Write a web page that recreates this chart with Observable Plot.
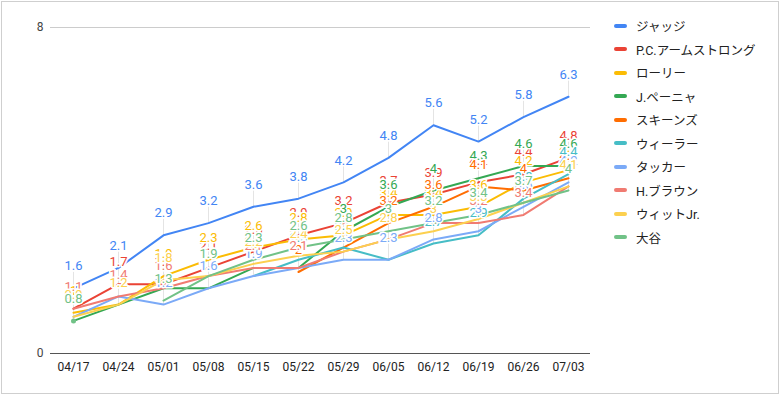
<!DOCTYPE html>
<html><head><meta charset="utf-8">
<script src="https://cdn.jsdelivr.net/npm/d3@7"></script>
<script src="https://cdn.jsdelivr.net/npm/@observablehq/plot@0.6"></script>
<style>
body{margin:0;background:#fff;font-family:Roboto,"Noto Sans CJK JP",sans-serif;}
#wrap{position:relative;width:780px;height:395px;overflow:hidden;}
#frame{position:absolute;left:1px;top:1px;width:776px;height:391px;border:1px solid #cfcfcf;pointer-events:none;}
#legend{position:absolute;left:614px;top:14px;}
.item{height:23.5px;display:flex;align-items:center;font-size:12.5px;color:#222;white-space:nowrap;}
.sw{width:13px;height:4px;border-radius:2px;margin-right:9px;}
</style></head><body>
<div id="wrap"><div id="chart"></div><div id="legend"></div><div id="frame"></div></div>
<script>
const dates = ["04/17","04/24","05/01","05/08","05/15","05/22","05/29","06/05","06/12","06/19","06/26","07/03"];
const names = ["ジャッジ","P.C.アームストロング","ローリー","J.ペーニャ","スキーンズ","ウィーラー","タッカー","H.ブラウン","ウィットJr.","大谷"];
const colors = ["#4285F4","#EA4335","#FBBC04","#34A853","#FF6D01","#46BDC6","#7BAAF7","#F07B72","#FCD04F","#71C287"];
const judge     = [1.6,2.1,2.9,3.2,3.6,3.8,4.2,4.8,5.6,5.2,5.8,6.3];
const armstrong = [1.1,1.7,1.7,2.1,2.5,2.9,3.2,3.7,3.9,4.2,4.4,4.8];
const raleigh   = [1,1.2,1.9,2.3,2.6,2.8,2.9,3.4,3.4,3.6,4.2,4.5];
const pena      = [0.8,1.2,1.6,1.6,2.1,2.1,3,3.6,4,4.3,4.6,4.6];
const skenes    = [null,null,null,null,null,2,2.6,3.2,3.6,4.1,4,4.3];
const wheeler   = [null,null,null,null,1.9,2.3,2.6,2.3,2.7,2.9,3.8,4.4];
const tucker    = [0.9,1.4,1.2,1.6,1.9,2.1,2.3,2.3,2.8,3,3.6,4.2];
const brown     = [1.1,1.4,1.6,1.9,2.1,2.1,2.5,2.8,3.2,3.2,3.4,4.1];
const witt      = [0.9,1.2,1.8,1.9,2.2,2.4,2.5,2.8,3,3.3,3.7,4.1];
const ohtani    = [0.8,null,1.3,1.9,2.3,2.6,2.8,3,3.2,3.4,3.7,4];
const yTicks = [0, 8];

const values = [judge, armstrong, raleigh, pena, skenes, wheeler, tucker, brown, witt, ohtani];
const rows = [];
names.forEach((n, i) => dates.forEach((d, j) => rows.push({series: n, date: d, value: values[i][j], i, j})));
const defined = rows.filter(r => r.value != null);
const isolated = defined.filter(r => {
  const v = values[r.i];
  return (r.j === 0 || v[r.j - 1] == null) && (r.j === dates.length - 1 || v[r.j + 1] == null);
});

const stem = {draw(context, l) { context.moveTo(0, 0); context.lineTo(0, -l); }};

const chart = Plot.plot({
  width: 780, height: 395,
  marginLeft: 50, marginRight: 190, marginTop: 27, marginBottom: 42,
  style: {fontFamily: "Roboto, 'Noto Sans CJK JP', sans-serif", background: "transparent"},
  x: {type: "point", domain: dates, padding: 0.5},
  y: {domain: [0, 8]},
  color: {domain: names, range: colors},
  marks: [
    Plot.ruleY([8], {stroke: "#cccccc", strokeWidth: 1}),
    Plot.vector(defined, {x: "date", y: "value", length: 16, rotate: 0, anchor: "start", stroke: "#e4e4e4", strokeWidth: 1, shape: stem}),
    Plot.line(rows, {x: "date", y: "value", z: "series", stroke: "series", strokeWidth: 2, curve: "linear"}),
    Plot.dot(isolated, {x: "date", y: "value", r: 2.5, fill: "series"}),
    Plot.ruleY([0], {stroke: "#555", strokeWidth: 1.2}),
    Plot.text(defined, {x: "date", y: "value", text: d => String(d.value), fill: "series", dy: -22, fontSize: 13, stroke: "white", strokeWidth: 3, paintOrder: "stroke"}),
    Plot.axisX({tickSize: 0, tickPadding: 9, fontSize: 12, color: "#222", label: null}),
    Plot.axisY({ticks: yTicks, tickSize: 0, tickPadding: 7, fontSize: 12, color: "#444", label: null})
  ]
});
document.getElementById("chart").appendChild(chart);

const legend = document.getElementById("legend");
names.forEach((n, i) => {
  const it = document.createElement("div");
  it.className = "item";
  const sw = document.createElement("span");
  sw.className = "sw";
  sw.style.background = colors[i];
  const t = document.createElement("span");
  t.textContent = n;
  it.appendChild(sw); it.appendChild(t);
  legend.appendChild(it);
});
</script>
</body></html>
